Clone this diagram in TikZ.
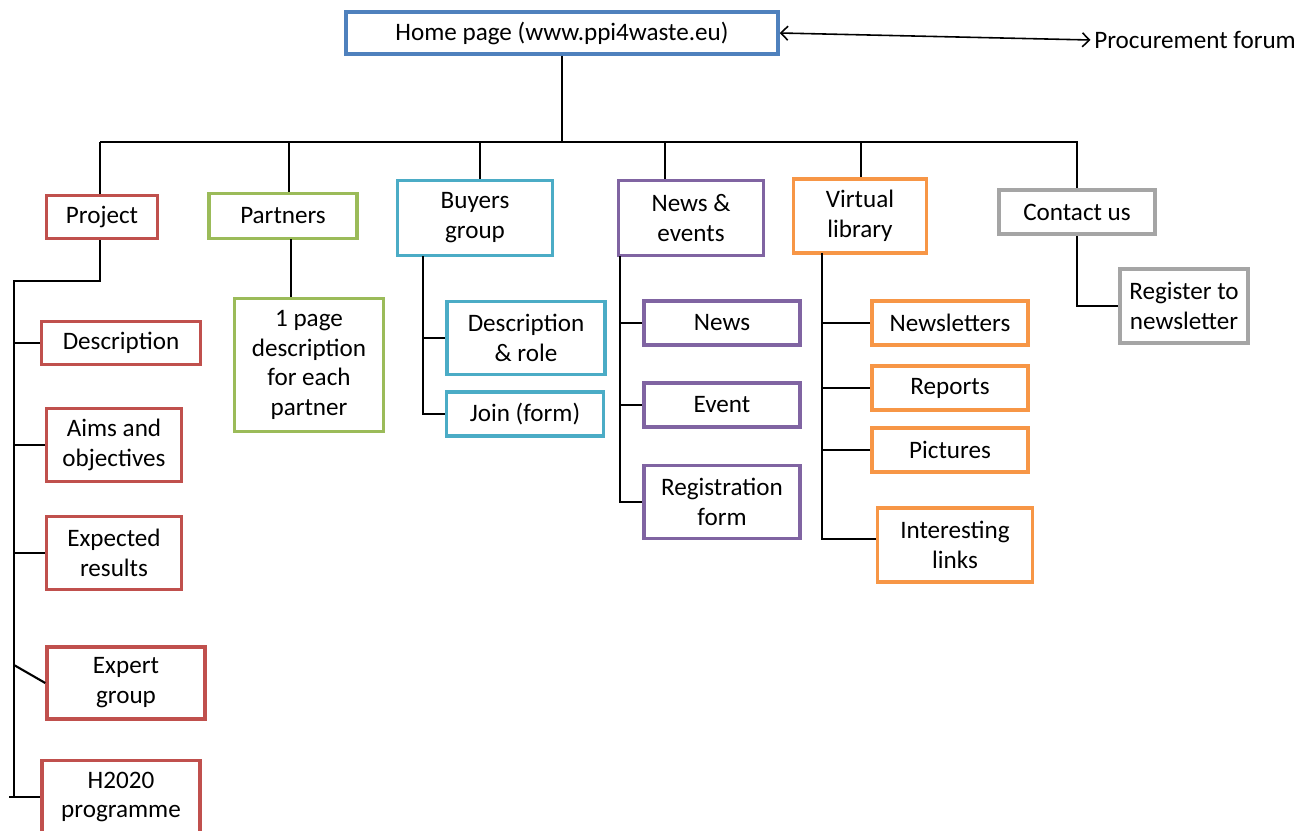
\documentclass[tikz,border=0pt]{standalone}
\usepackage{fontspec}
\setmainfont{Carlito}
\usetikzlibrary{arrows.meta}
\definecolor{homeblue}{HTML}{4F81BD}
\definecolor{projred}{HTML}{C0504D}
\definecolor{partgreen}{HTML}{9BBB59}
\definecolor{buycyan}{HTML}{4BACC6}
\definecolor{newspurple}{HTML}{8064A2}
\definecolor{liborange}{HTML}{F79646}
\definecolor{contgray}{HTML}{A5A5A5}
\tikzset{
  box/.style={draw=#1, line width=2pt, fill=white, align=center, inner sep=0pt,
    font=\fontsize{14.3}{17}\selectfont},
  wh/.style 2 args={minimum width=#1*0.02cm, minimum height=#2*0.02cm},
  link/.style={line width=1.2pt},
}
\begin{document}
\begin{tikzpicture}[x=0.02cm, y=-0.02cm]
  \useasboundingbox (0,0) rectangle (1311,831);
  % top level
  \node[box=homeblue, wh={432}{42}] (home) at (562,33) {Home page (www.ppi4waste.eu)};
  \node[anchor=west, font=\fontsize{14.3}{17}\selectfont, inner sep=0pt] (forum) at (1094,40) {Procurement forum};
  \draw[{Straight Barb[length=4pt,width=8pt]}-{Straight Barb[length=4pt,width=8pt]}, line width=0.9pt]
    (home.east) -- ([xshift=-2pt]forum.west);
  % sections
  \node[box=projred, wh={111}{43}] (proj) at (102,217) {Project};
  \node[box=partgreen, wh={148}{45}] (part) at (283,216) {Partners};
  \node[box=buycyan, wh={155}{75}] (buy) at (475,218) {Buyers\\group};
  \node[box=newspurple, wh={145}{75}] (news) at (691,218) {News \&\\events};
  \node[box=liborange, wh={133}{74}] (lib) at (860,216) {Virtual\\library};
  \node[box=contgray, wh={156}{44}] (cont) at (1077,212) {Contact us};
  % project pages
  \node[box=projred, wh={159}{43}] (desc) at (121,343) {Description};
  \node[box=projred, wh={135}{73}] (aims) at (114,445) {Aims and\\objectives};
  \node[box=projred, wh={135}{73}] (expres) at (114,553) {Expected\\results};
  \node[box=projred, wh={158}{72}] (expgrp) at (126,683) {Expert\\group};
  \node[box=projred, wh={158}{73}] (h2020) at (121,797) {H2020\\programme};
  % partners page
  \node[box=partgreen, wh={149}{133}] (onepage) at (309,365) {1 page\\description\\for each\\partner};
  % buyers pages
  \node[box=buycyan, wh={158}{73}] (buyrole) at (526,338) {Description\\\& role};
  \node[box=buycyan, wh={157}{44}] (join) at (525,414) {Join (form)};
  % news pages
  \node[box=newspurple, wh={156}{44}] (newsp) at (722,323) {News};
  \node[box=newspurple, wh={156}{44}] (event) at (722,405) {Event};
  \node[box=newspurple, wh={156}{73}] (regform) at (722,502) {Registration\\form};
  % library pages
  \node[box=liborange, wh={156}{44}] (letters) at (950,323) {Newsletters};
  \node[box=liborange, wh={156}{44}] (reports) at (950,388) {Reports};
  \node[box=liborange, wh={156}{44}] (pics) at (950,450) {Pictures};
  \node[box=liborange, wh={155}{74}] (links) at (955,545) {Interesting\\links};
  % contact page
  \node[box=contgray, wh={128}{74}] (reg) at (1184,306) {Register to\\newsletter};
  % bus
  \coordinate (busL) at (100,142);
  \coordinate (busR) at (1078,142);
  \coordinate (b1) at (100,142);
  \coordinate (b2) at (289,142);
  \coordinate (b3) at (480,142);
  \coordinate (b4) at (665,142);
  \coordinate (b5) at (861,142);
  \coordinate (b6) at (1077,142);
  \begin{scope}[link]
    \draw (home.south) -- (home.south |- busL);
    \draw (busL) -- (busR);
    \draw (b1) -- (b1 |- proj.north);
    \draw (b2) -- (b2 |- part.north);
    \draw (b3) -- (b3 |- buy.north);
    \draw (b4) -- (b4 |- news.north);
    \draw (b5) -- (b5 |- lib.north);
    \draw (b6) -- (b6 |- cont.north);
  \end{scope}
  % project tree
  \coordinate (pj) at (14,281);
  \coordinate (pjend) at (14,797);
  \coordinate (pjtick) at (9,797);
  \coordinate (pjslant) at (14,665);
  \begin{scope}[link]
    \draw (b1 |- proj.south) -- (b1 |- pj) -- (pj) -- (pjend);
    \draw (desc.west -| pj) -- (desc.west);
    \draw (aims.west -| pj) -- (aims.west);
    \draw (expres.west -| pj) -- (expres.west);
    \draw (pjslant) -- (expgrp.west);
    \draw (pjtick) -- (h2020.west);
  \end{scope}
  % partners tree
  \coordinate (pt) at (291,239);
  \draw[link] (pt) -- (pt |- onepage.north);
  % buyers tree
  \coordinate (by) at (423,256);
  \begin{scope}[link]
    \draw (by) -- (by |- join.west) -- (join.west);
    \draw (buyrole.west -| by) -- (buyrole.west);
  \end{scope}
  % news tree
  \coordinate (nw) at (620,256);
  \begin{scope}[link]
    \draw (nw) -- (nw |- regform.west) -- (regform.west);
    \draw (newsp.west -| nw) -- (newsp.west);
    \draw (event.west -| nw) -- (event.west);
  \end{scope}
  % library tree
  \coordinate (lb) at (822,253);
  \coordinate (lbend) at (822,539);
  \begin{scope}[link]
    \draw (lb) -- (lbend) -- (lbend -| links.west);
    \draw (letters.west -| lb) -- (letters.west);
    \draw (reports.west -| lb) -- (reports.west);
    \draw (pics.west -| lb) -- (pics.west);
  \end{scope}
  % contact tree
  \draw[link] (cont.south) |- (reg.west);
\end{tikzpicture}
\end{document}
